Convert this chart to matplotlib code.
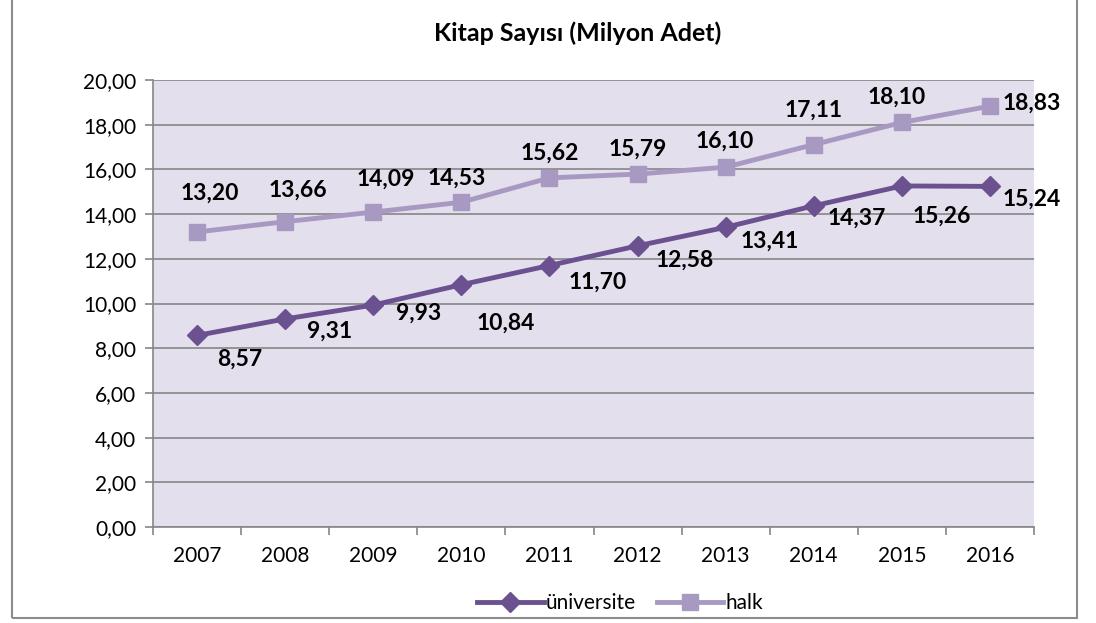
import matplotlib
matplotlib.use("Agg")
import matplotlib.pyplot as plt
from matplotlib.patches import Rectangle
from matplotlib.ticker import MultipleLocator, FixedLocator, FuncFormatter

years = ["2007", "2008", "2009", "2010", "2011", "2012", "2013", "2014", "2015", "2016"]
universite = [8.57, 9.31, 9.93, 10.84, 11.70, 12.58, 13.41, 14.37, 15.26, 15.24]
halk = [13.20, 13.66, 14.09, 14.53, 15.62, 15.79, 16.10, 17.11, 18.10, 18.83]

# label offsets in points (x, y)
uni_off = [(31, -17), (32, -9), (33, -6), (32, -28), (35, -12), (34, -10), (32, -10), (31, -9), (29, -22), (30, -9)]
halk_off = [(9, 28), (9, 23), (9, 24), (-3, 17), (0, 18), (0, 18), (-1, 19), (0, 25), (-4, 18), (30, 2)]

plt.rcParams['font.family'] = ['Lato', 'DejaVu Sans']

fig = plt.figure(figsize=(10.96, 6.23), dpi=100)
fig.patches.append(Rectangle((12/1096, 5/623), 1065/1096, 1.0, transform=fig.transFigure,
                             fill=False, edgecolor='#8c8c8c', linewidth=1.5))
ax = fig.add_axes([153/1096, 1 - 527/623, 881/1096, 447/623])
ax.set_facecolor('#e4dfec')

x = list(range(len(years)))
c_uni = '#6b5190'
c_halk = '#a899c2'
l1, = ax.plot(x, universite, color=c_uni, lw=3.5, marker='D', ms=10, label='üniversite', zorder=3)
l2, = ax.plot(x, halk, color=c_halk, lw=3.5, marker='s', ms=12, label='halk', zorder=3)

for i, v in enumerate(universite):
    ax.annotate(f"{v:.2f}".replace('.', ','), (i, v), xytext=uni_off[i], textcoords='offset points',
                ha='center', va='center', fontsize=16.5, fontweight='bold', color='black')
for i, v in enumerate(halk):
    ax.annotate(f"{v:.2f}".replace('.', ','), (i, v), xytext=halk_off[i], textcoords='offset points',
                ha='center', va='center', fontsize=16.5, fontweight='bold', color='black')

ax.set_xlim(-0.5, len(years) - 0.5)
ax.set_ylim(0, 20)
ax.yaxis.set_major_locator(MultipleLocator(2))
ax.yaxis.set_major_formatter(FuncFormatter(lambda v, p: f"{v:.2f}".replace('.', ',')))
ax.grid(axis='y', color='#868686', lw=1.2)
ax.set_axisbelow(True)
ax.xaxis.set_major_locator(FixedLocator([i - 0.5 for i in range(len(years) + 1)]))
ax.xaxis.set_major_formatter(FuncFormatter(lambda v, p: ""))
ax.xaxis.set_minor_locator(FixedLocator(x))
ax.set_xticklabels(years, minor=True)
ax.tick_params(axis='x', which='minor', length=0, labelsize=15, pad=14)
ax.tick_params(axis='x', which='major', length=6, color='#868686', width=1.2)
ax.tick_params(axis='y', length=6, color='#868686', width=1.2, labelsize=15, pad=6)
for s in ['top', 'right']:
    ax.spines[s].set_visible(False)
for s in ['left', 'bottom']:
    ax.spines[s].set_color('#868686')
    ax.spines[s].set_linewidth(1.2)

fig.text(578/1096, 1 - 33/623, "Kitap Sayısı (Milyon Adet)", ha='center', va='center',
         fontsize=18, fontweight='bold')
fig.legend(handles=[l1, l2], loc='center', bbox_to_anchor=(620/1096, 1 - 603/623), ncol=2,
           frameon=False, fontsize=15, handlelength=3.2, columnspacing=1.0, handletextpad=0.1)

fig.savefig("out.png", dpi=100)
